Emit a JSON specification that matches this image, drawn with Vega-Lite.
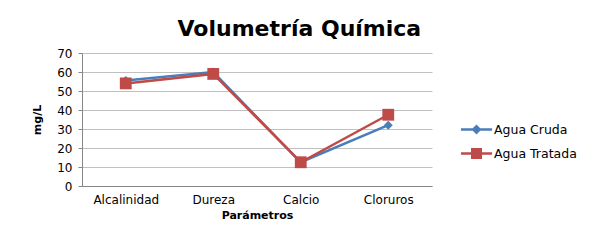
{
  "$schema": "https://vega.github.io/schema/vega-lite/v6.json",
  "width": 350,
  "height": 133,
  "autosize": {"type": "none"},
  "padding": {"left": 82, "top": 53, "right": 174, "bottom": 58},
  "background": "white",
  "title": {
    "text": "Volumetría Química",
    "font": "DejaVu Sans",
    "fontWeight": "bold",
    "fontSize": 22,
    "color": "black",
    "anchor": "middle",
    "frame": "bounds",
    "offset": 6,
    "dx": -5
  },
  "data": {
    "values": [
      {"param": "Alcalinidad", "serie": "Agua Cruda", "valor": 55.5},
      {"param": "Dureza", "serie": "Agua Cruda", "valor": 60},
      {"param": "Calcio", "serie": "Agua Cruda", "valor": 12.5},
      {"param": "Cloruros", "serie": "Agua Cruda", "valor": 32},
      {"param": "Alcalinidad", "serie": "Agua Tratada", "valor": 54},
      {"param": "Dureza", "serie": "Agua Tratada", "valor": 59},
      {"param": "Calcio", "serie": "Agua Tratada", "valor": 12.5},
      {"param": "Cloruros", "serie": "Agua Tratada", "valor": 37.5}
    ]
  },
  "encoding": {
    "x": {
      "field": "param",
      "type": "nominal",
      "sort": ["Alcalinidad", "Dureza", "Calcio", "Cloruros"],
      "scale": {"paddingInner": 0, "paddingOuter": 0},
      "axis": {
        "title": "Parámetros",
        "labelAngle": 0,
        "labelFont": "DejaVu Sans",
        "labelFontSize": 12,
        "labelColor": "black",
        "labelPadding": 8,
        "titleFont": "DejaVu Sans",
        "titleFontSize": 11,
        "titleFontWeight": "bold",
        "titleColor": "black",
        "titlePadding": 4,
        "domainColor": "#868686",
        "ticks": false,
        "grid": false
      }
    },
    "y": {
      "field": "valor",
      "type": "quantitative",
      "scale": {"domain": [0, 70], "nice": false},
      "axis": {
        "title": "mg/L",
        "values": [0, 10, 20, 30, 40, 50, 60, 70],
        "labelFont": "DejaVu Sans",
        "labelFontSize": 12,
        "labelColor": "black",
        "labelPadding": 6,
        "titleFont": "DejaVu Sans",
        "titleFontSize": 11,
        "titleFontWeight": "bold",
        "titleColor": "black",
        "titlePadding": 14,
        "domainColor": "#868686",
        "tickColor": "#868686",
        "tickSize": 4,
        "grid": true,
        "gridColor": "#C0C0C0",
        "gridWidth": 1
      }
    },
    "color": {
      "field": "serie",
      "type": "nominal",
      "scale": {"domain": ["Agua Cruda", "Agua Tratada"], "range": ["#4A7EBB", "#BE4B48"]},
      "legend": {
        "title": null,
        "orient": "none",
        "legendX": 386,
        "legendY": 68,
        "labelFont": "DejaVu Sans",
        "labelFontSize": 12.5,
        "labelColor": "black",
        "symbolSize": 200,
        "symbolStrokeWidth": 2.5,
        "rowPadding": 6,
        "labelOffset": 9,
        "encode": {
          "symbols": {
            "update": {
              "shape": {"signal": "datum.value === 'Agua Cruda' ? 'M-2.2,0H2.2M-0.45,0L0,-0.45L0.45,0L0,0.45Z' : 'M-2.2,0H2.2M-0.6,-0.6H0.6V0.6H-0.6Z'"},
              "fill": {"scale": "color", "field": "value"},
              "fillOpacity": {"value": 1},
              "stroke": {"scale": "color", "field": "value"},
              "strokeWidth": {"value": 2.5}
            }
          }
        }
      }
    }
  },
  "layer": [
    {
      "mark": {"type": "line", "strokeWidth": 2.5}
    },
    {
      "transform": [{"filter": "datum.serie === 'Agua Cruda'"}],
      "mark": {"type": "point", "filled": true, "opacity": 1, "shape": "diamond", "size": 80}
    },
    {
      "transform": [{"filter": "datum.serie === 'Agua Tratada'"}],
      "mark": {"type": "point", "filled": true, "opacity": 1, "shape": "square", "size": 140}
    }
  ],
  "config": {
    "view": {"stroke": null}
  }
}
